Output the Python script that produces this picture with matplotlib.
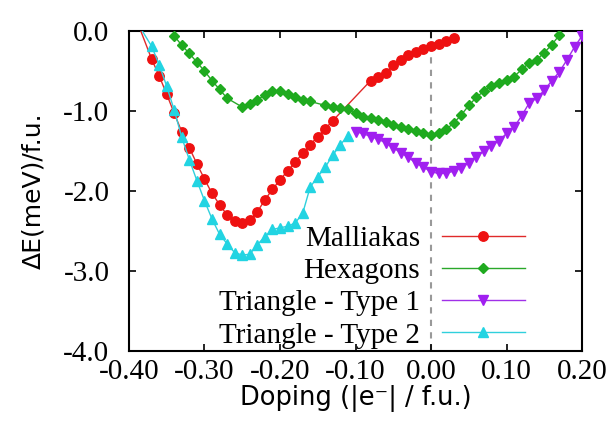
import numpy as np
import matplotlib
matplotlib.use("Agg")
import matplotlib.pyplot as plt

# doping values (|e-| / f.u.) and energies (meV / f.u.)
mal_x = [-0.39, -0.37, -0.36, -0.35, -0.34, -0.33, -0.32, -0.31, -0.30, -0.29,
         -0.28, -0.27, -0.26, -0.25, -0.24, -0.23, -0.22, -0.21, -0.20, -0.19,
         -0.18, -0.17, -0.16, -0.15, -0.14, -0.13, -0.08, -0.07, -0.06, -0.05,
         -0.04, -0.03, -0.02, -0.01, 0.00, 0.01, 0.02, 0.03]
mal_y = [0.14, -0.35, -0.56, -0.79, -1.03, -1.26, -1.46, -1.66, -1.85, -2.03,
         -2.17, -2.30, -2.38, -2.40, -2.36, -2.26, -2.11, -1.98, -1.86, -1.75,
         -1.64, -1.53, -1.42, -1.32, -1.22, -1.12, -0.62, -0.58, -0.52, -0.43,
         -0.36, -0.30, -0.26, -0.22, -0.19, -0.16, -0.12, -0.09]

hex_x = [-0.34, -0.33, -0.32, -0.31, -0.30, -0.29, -0.28, -0.27, -0.25, -0.24,
         -0.23, -0.22, -0.21, -0.20, -0.19, -0.18, -0.17, -0.16, -0.14, -0.13,
         -0.12, -0.11, -0.10, -0.09, -0.08, -0.07, -0.06, -0.05, -0.04, -0.03,
         -0.02, -0.01, 0.00, 0.01, 0.02, 0.03, 0.04, 0.05, 0.06, 0.07,
         0.08, 0.09, 0.10, 0.11, 0.12, 0.13, 0.14, 0.15, 0.16, 0.17]
hex_y = [-0.06, -0.18, -0.28, -0.39, -0.50, -0.62, -0.73, -0.84, -0.95, -0.91,
         -0.86, -0.80, -0.75, -0.75, -0.79, -0.83, -0.86, -0.88, -0.93, -0.95,
         -0.96, -0.98, -1.03, -1.07, -1.09, -1.11, -1.14, -1.17, -1.20, -1.23,
         -1.25, -1.27, -1.30, -1.27, -1.23, -1.15, -1.05, -0.93, -0.83, -0.75,
         -0.69, -0.65, -0.61, -0.57, -0.48, -0.40, -0.36, -0.27, -0.17, -0.05]

tri1_x = [-0.10, -0.09, -0.08, -0.07, -0.06, -0.05, -0.04, -0.03, -0.02, -0.01,
          0.00, 0.01, 0.02, 0.03, 0.04, 0.05, 0.06, 0.07, 0.08, 0.09,
          0.10, 0.11, 0.12, 0.13, 0.14, 0.15, 0.16, 0.17, 0.18, 0.19, 0.20]
tri1_y = [-1.26, -1.28, -1.32, -1.35, -1.40, -1.46, -1.52, -1.58, -1.65, -1.70,
          -1.76, -1.78, -1.78, -1.75, -1.71, -1.65, -1.57, -1.50, -1.44, -1.37,
          -1.28, -1.20, -1.06, -0.90, -0.84, -0.74, -0.62, -0.51, -0.36, -0.20, -0.06]

tri2_x = [-0.39, -0.37, -0.36, -0.35, -0.34, -0.33, -0.32, -0.31, -0.30, -0.29,
          -0.28, -0.27, -0.26, -0.25, -0.24, -0.23, -0.22, -0.21, -0.20, -0.19,
          -0.18, -0.17, -0.16, -0.15, -0.14, -0.13, -0.12, -0.11]
tri2_y = [0.12, -0.19, -0.42, -0.69, -0.99, -1.33, -1.61, -1.87, -2.12, -2.35,
          -2.54, -2.66, -2.77, -2.80, -2.79, -2.67, -2.57, -2.48, -2.46, -2.44,
          -2.40, -2.28, -1.95, -1.82, -1.70, -1.55, -1.42, -1.31]

xticks = [-0.40, -0.30, -0.20, -0.10, 0.00, 0.10, 0.20]
yticks = [0.0, -1.0, -2.0, -3.0, -4.0]

serif = ['Liberation Serif', 'DejaVu Serif']
sans = ['DejaVu Sans']

fig = plt.figure(figsize=(6.14, 4.25), dpi=100)
ax = fig.add_axes([0.210, 0.174, 0.738, 0.753])

ax.axvline(0.0, color='#999999', lw=1.5, ls=(0, (3, 3)), zorder=1)

ax.plot(mal_x, mal_y, color='#e02a2a', lw=1, marker='o', ms=6.8,
        mfc='#ee1111', mec='#ee1111', label='Malliakas', zorder=3)
ax.plot(hex_x, hex_y, color='#2aa82a', lw=1, marker='D', ms=5,
        mfc='#1faa1f', mec='#1faa1f', label='Hexagons', zorder=3)
ax.plot(tri1_x, tri1_y, color='#a030e8', lw=1, marker='v', ms=7,
        mfc='#a01ff0', mec='#a01ff0', label='Triangle - Type 1', zorder=3)
ax.plot(tri2_x, tri2_y, color='#30d0dc', lw=1, marker='^', ms=7,
        mfc='#22d4e2', mec='#22d4e2', label='Triangle - Type 2', zorder=3)

ax.set_xlim(-0.40, 0.20)
ax.set_ylim(-4.0, 0.0)
ax.set_xticks(xticks)
ax.set_xticklabels(['%.2f' % v for v in xticks], family=serif, fontsize=21)
ax.set_yticks(yticks)
ax.set_yticklabels(['%.1f' % v for v in yticks], family=serif, fontsize=21)
ax.tick_params(direction='in', length=5, width=1.2, top=True, right=True)
ax.tick_params(axis='y', pad=14)
ax.tick_params(axis='x', pad=6)
for s in ax.spines.values():
    s.set_linewidth(1.5)

ax.set_xlabel('Doping (|e\u207b| / f.u.)', family=sans, fontsize=18.5, labelpad=0)
ax.set_ylabel('\u0394E(meV)/f.u.', family=sans, fontsize=18, labelpad=13)

leg = ax.legend(loc='center right', bbox_to_anchor=(525 / 614, 1 - 287 / 425),
                bbox_transform=fig.transFigure, frameon=False, markerfirst=False,
                prop={'family': serif, 'size': 21}, handlelength=2.85,
                handletextpad=0.75, labelspacing=0.2, borderpad=0,
                borderaxespad=0)
for t in leg.get_texts():
    t.set_ha('right')

fig.savefig('out.png', dpi=100)
